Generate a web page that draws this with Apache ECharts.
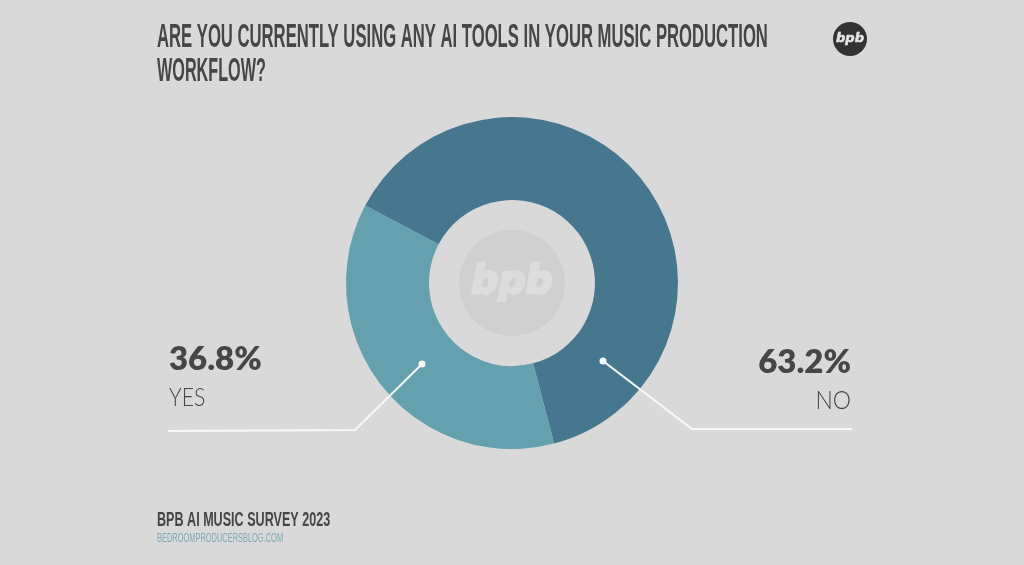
<!DOCTYPE html>
<html>
<head>
<meta charset="utf-8">
<title>BPB AI Music Survey 2023</title>
<style>
html,body{margin:0;padding:0;background:#d9d9d9}
#chart{width:1024px;height:565px}
</style>
<script src="https://cdn.jsdelivr.net/npm/echarts@6/dist/echarts.min.js"></script>
</head>
<body>
<div id="chart"></div>
<script>
var categories = ['NO', 'YES'];
var shares = [63.2, 36.8];
var sliceColors = ['#47778f', '#64a0ae'];
var titleLines = ['ARE YOU CURRENTLY USING ANY AI TOOLS IN YOUR MUSIC PRODUCTION', 'WORKFLOW?'];
var footerTitle = 'BPB AI MUSIC SURVEY 2023';
var footerSite = 'BEDROOMPRODUCERSBLOG.COM';
var logoText = 'bpb';

var narrow = '"Liberation Sans Narrow", "Liberation Sans", sans-serif';
var ink = '#464646';

var myChart = echarts.init(document.getElementById('chart'));

function text(x, y, str, font, size, weight, color, align, sx, sy, italic, bold) {
    return {
        type: 'text', x: x, y: y, scaleX: sx || 1, scaleY: sy || 1, z: 10,
        style: {
            text: str, fontFamily: font, fontSize: size, fontWeight: weight,
            fontStyle: italic ? 'italic' : 'normal',
            fill: color, align: align || 'left', verticalAlign: 'middle',
            stroke: bold ? color : null, lineWidth: bold || 0
        }
    };
}

// 引线:起点在圆环内,折到水平线
function leader(points) {
    return {type: 'polyline', z: 10, shape: {points: points}, style: {stroke: '#f7f8f8', lineWidth: 2, fill: null}};
}
function dot(x, y) {
    return {type: 'circle', z: 11, shape: {cx: x, cy: y, r: 3.5}, style: {fill: '#f7f8f8'}};
}

var option = {
    backgroundColor: '#d9d9d9',
    animation: false,
    series: [{
        type: 'pie',
        center: [512, 283],
        radius: [83, 166],
        startAngle: 152.2,
        clockwise: true,
        silent: true,
        label: {show: false},
        labelLine: {show: false},
        data: categories.map(function (c, i) {
            return {name: c, value: shares[i], itemStyle: {color: sliceColors[i]}};
        })
    }],
    graphic: [
        text(157, 38, titleLines[0], narrow, 27, 700, ink, 'left', 0.617, 1.25),
        text(157, 72, titleLines[1], narrow, 27, 700, ink, 'left', 0.6, 1.25),

        {type: 'circle', z: 5, shape: {cx: 850, cy: 39, r: 17}, style: {fill: '#333333'}},
        text(850, 39, logoText, '"DejaVu Sans"', 13, 700, '#e4e4e4', 'center', 1, 1, true, 0.6),

        {type: 'circle', z: 5, shape: {cx: 512, cy: 283, r: 53}, style: {fill: '#d0d0d0'}},
        text(512, 283, logoText, '"DejaVu Sans"', 38, 700, '#dcdcdc', 'center', 1, 1.05, true, 2.5),

        text(169, 360, shares[1].toFixed(1) + '%', 'Lato', 32, 800, ink, 'left', 1.03),
        text(169, 398, categories[1], 'Lato', 25, 300, ink, 'left', 0.85),
        text(851, 363, shares[0].toFixed(1) + '%', 'Lato', 32, 800, ink, 'right', 1.03),
        text(851, 401, categories[0], 'Lato', 25, 300, ink, 'right', 0.92),

        leader([[168, 431], [355, 430], [422, 364]]),
        dot(422, 364),
        leader([[852, 429], [692, 429], [603, 361]]),
        dot(603, 361),

        text(157, 521, footerTitle, narrow, 17, 700, ink, 'left', 0.74, 1.15),
        text(157, 538, footerSite, narrow, 12, 400, '#7fa9b5', 'left', 0.62, 1.1)
    ]
};
myChart.setOption(option);
window.addEventListener('resize', function () {
    myChart.resize();
});
</script>
</body>
</html>
